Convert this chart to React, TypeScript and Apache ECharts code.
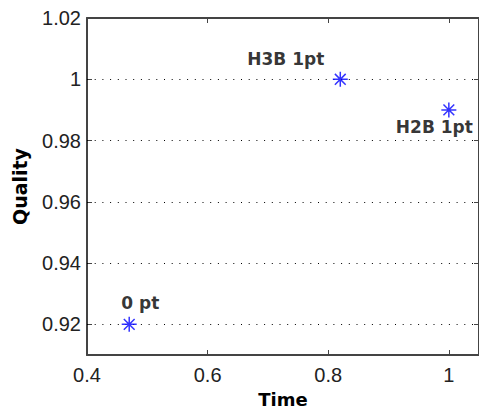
import React, { useEffect, useRef } from "react";
import * as echarts from "echarts";

const pointNames = ["0 pt", "H3B 1pt", "H2B 1pt"];
const timeValues = [0.47, 0.82, 1.0];
const qualityValues = [0.92, 1.0, 0.99];
const xTickValues = [0.4, 0.6, 0.8, 1.0];
const yTickValues = [0.92, 0.94, 0.96, 0.98, 1.0, 1.02];
const yGridValues = [0.92, 0.94, 0.96, 0.98, 1.0];

const labelPlacement: Record<string, { align: string; offset: number[] }> = {
  "0 pt": { align: "left", offset: [-8, -21] },
  "H3B 1pt": { align: "right", offset: [-16, -20] },
  "H2B 1pt": { align: "left", offset: [-53, 17] },
};

const tickFont = "'Liberation Sans', Arial, sans-serif";
const boldFont = "'DejaVu Sans', sans-serif";
const axisColor = "#444";

export default function App() {
  const ref = useRef<HTMLDivElement>(null);
  useEffect(() => {
    document.body.style.margin = "0";
    const chart = echarts.init(ref.current!, null, { renderer: "svg" });
    const axisLine = { show: true, lineStyle: { color: axisColor, width: 2 } };
    const tick = (vals: number[]) => ({
      show: true,
      inside: true,
      length: 5,
      customValues: vals,
      lineStyle: { color: axisColor, width: 1 },
    });
    chart.setOption({
      animation: false,
      backgroundColor: "#fff",
      grid: { left: 87, top: 18, right: -1, bottom: 64, containLabel: false },
      xAxis: [
        {
          type: "value",
          position: "bottom",
          min: 0.4,
          max: 1.05,
          name: "Time",
          nameLocation: "middle",
          nameGap: 35,
          nameTextStyle: { fontFamily: boldFont, fontWeight: "bold", fontSize: 18, color: "#000" },
          axisLine,
          axisTick: tick(xTickValues),
          axisLabel: {
            customValues: xTickValues,
            formatter: (v: number) => String(Number(v.toFixed(2))),
            fontFamily: tickFont,
            fontSize: 20,
            color: "#222",
            margin: 10,
          },
          splitLine: { show: false },
        },
        {
          type: "value",
          position: "top",
          min: 0.4,
          max: 1.05,
          axisLine,
          axisTick: tick(xTickValues),
          axisLabel: { show: false },
          splitLine: { show: false },
        },
      ],
      yAxis: [
        {
          type: "value",
          position: "left",
          min: 0.91,
          max: 1.02,
          name: "Quality",
          nameLocation: "middle",
          nameRotate: 90,
          nameGap: 58,
          nameTextStyle: { fontFamily: boldFont, fontWeight: "bold", fontSize: 19, color: "#000" },
          axisLine,
          axisTick: tick(yTickValues),
          axisLabel: {
            customValues: yTickValues,
            formatter: (v: number) => String(Number(v.toFixed(2))),
            fontFamily: tickFont,
            fontSize: 20,
            color: "#222",
            margin: 6,
          },
          splitLine: { show: false },
        },
        {
          type: "value",
          position: "right",
          min: 0.91,
          max: 1.02,
          axisLine,
          axisTick: tick(yTickValues),
          axisLabel: { show: false },
          splitLine: { show: false },
        },
      ],
      series: [
        {
          type: "scatter",
          xAxisIndex: 0,
          yAxisIndex: 0,
          symbol: "path://M0,-1L0,1M-1,0L1,0M-0.72,-0.72L0.72,0.72M-0.72,0.72L0.72,-0.72",
          symbolSize: 15,
          itemStyle: { color: "rgba(0,0,0,0)", borderColor: "#0000ff", borderWidth: 1.5 },
          data: pointNames.map((n, i) => ({
            name: n,
            value: [timeValues[i], qualityValues[i]],
            label: {
              show: true,
              position: "inside",
              align: labelPlacement[n].align,
              verticalAlign: "middle",
              offset: labelPlacement[n].offset,
              formatter: n,
              fontFamily: boldFont,
              fontWeight: "bold",
              fontSize: 17,
              color: "#000",
              textBorderWidth: 0,
              textBorderColor: "transparent",
            },
          })),
          markLine: {
            silent: true,
            symbol: "none",
            label: { show: false },
            lineStyle: { color: "#000", width: 1, type: [1, 6.7] },
            data: yGridValues.map((v) => ({ yAxis: v })),
            z: 1,
          },
          z: 3,
        },
      ],
    });
    return () => chart.dispose();
  }, []);
  return <div ref={ref} style={{ width: 479, height: 419 }} />;
}
